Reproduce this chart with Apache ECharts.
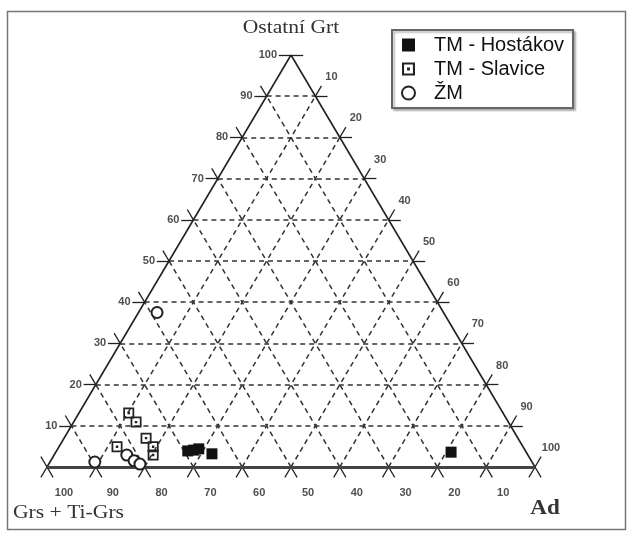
<!DOCTYPE html>
<html>
<head>
<meta charset="utf-8">
<script src="https://cdn.jsdelivr.net/npm/echarts@6/dist/echarts.min.js"></script>
<style>
  html, body { margin: 0; padding: 0; background: #fff; }
  #chart { width: 631px; height: 537px; }
</style>
</head>
<body>
<div id="chart"></div>
<script>
// Garnet compositions in percent: Ostatní Grt (top), Ad (right); Grs + Ti-Grs is the remainder.
const hostakovOstatni = [3.9, 4.1, 4.4, 3.2, 3.6];
const hostakovAd      = [26.9, 28.0, 28.9, 32.2, 81.0];

const slaviceOstatni = [13.1, 10.9, 7.0, 4.9, 2.9, 4.9];
const slaviceAd      = [10.2, 12.8, 16.8, 19.3, 20.3, 11.9];

const zmOstatni = [37.5, 1.2, 2.9, 1.5, 0.7];
const zmAd      = [3.8, 9.2, 14.9, 17.1, 18.7];

// Tick values shared by all three sides
const tickSteps    = [10, 20, 30, 40, 50, 60, 70, 80, 90, 100];
const leftLabels   = ['10', '20', '30', '40', '50', '60', '70', '80', '90', '100'];   // Ostatní Grt
const bottomLabels = ['10', '20', '30', '40', '50', '60', '70', '80', '90', '100'];   // Grs + Ti-Grs
const rightLabels  = ['10', '20', '30', '40', '50', '60', '70', '80', '90', '100'];   // Ad

const seriesNames = ['TM - Hostákov', 'TM - Slavice', 'ŽM'];

// Ternary (Ostatní, Ad) -> cartesian value pair on a 0..100 x 0..100 plane
function tern(ost, ad) { return [ad + ost / 2, ost]; }

const EXT = 2.5;          // how far the ticks run past the triangle sides
const gridSegs = [];
for (let k = 10; k <= 90; k += 10) {
  gridSegs.push({ coords: [tern(k, 0), tern(k, 100 - k)] });          // Ostatní = k
  gridSegs.push({ coords: [tern(0, k), tern(100 - k, k)] });          // Ad = k
  gridSegs.push({ coords: [tern(0, 100 - k), tern(100 - k, 0)] });    // Grs = k
}

const tickSegs = [];
for (let k = 0; k <= 100; k += 10) {
  // Ostatní = k : left and right ends (the base itself gets no horizontal overhang)
  if (k > 0) {
    tickSegs.push({ coords: [tern(k, 0), tern(k, -EXT)] });
    tickSegs.push({ coords: [tern(k, 100 - k), tern(k, 100 - k + EXT)] });
  }
  // Ad = k : bottom end, and right-side end
  tickSegs.push({ coords: [tern(0, k), tern(-EXT, k)] });
  if (k > 0) tickSegs.push({ coords: [tern(100 - k, k), tern(100 - k + EXT, k)] });
  // Grs = k : bottom end, and left-side end
  tickSegs.push({ coords: [tern(0, 100 - k), tern(-EXT, 100 - k + EXT)] });
  if (k > 0) tickSegs.push({ coords: [tern(100 - k, 0), tern(100 - k + EXT, -EXT)] });
}

const sideSegs = [
  { coords: [tern(0, 0), tern(100, 0)] },
  { coords: [tern(100, 0), tern(0, 100)] }
];
const baseSeg = [{ coords: [tern(0, 0), tern(0, 100)] }];

const leftLabelData   = tickSteps.map((k, i) => ({ value: tern(k, 0), name: leftLabels[i] }));
const bottomLabelData = tickSteps.map((k, i) => ({ value: tern(0, 100 - k), name: bottomLabels[i] }));
const rightLabelData  = tickSteps.map((k, i) => ({ value: tern(100 - k, k), name: rightLabels[i] }));

const toPoints = (ost, ad) => ost.map((o, i) => tern(o, ad[i]));

const labelFont = { color: '#222', fontSize: 11, fontWeight: 'bold', fontFamily: 'Liberation Sans, Arial, sans-serif' };

const slaviceIcon = 'path://M0,0H10V10H0Z M1.6,1.6V8.4H8.4V1.6Z M3.9,3.9H6.1V6.1H3.9Z';

const chart = echarts.init(document.getElementById('chart'), null, { renderer: 'canvas' });

chart.setOption({
  animation: false,
  backgroundColor: '#fff',
  grid: { left: 47, right: 96, top: 55, bottom: 70 },
  xAxis: { type: 'value', min: 0, max: 100, show: false },
  yAxis: { type: 'value', min: 0, max: 100, show: false },
  legend: {
    orient: 'vertical',
    left: 392,
    top: 30,
    padding: [5, 9, 5, 9],
    itemWidth: 13,
    itemHeight: 13,
    itemGap: 4,
    backgroundColor: '#fff',
    borderColor: '#666',
    borderWidth: 2,
    borderRadius: 0,
    shadowColor: 'rgba(0,0,0,0.25)',
    shadowBlur: 2,
    shadowOffsetX: 2,
    shadowOffsetY: 2,
    textStyle: {
      color: '#111',
      fontSize: 20,
      lineHeight: 20,
      fontFamily: 'Liberation Sans, Arial, sans-serif',
      padding: [0, 0, 0, 14]
    },
    data: [
      { name: seriesNames[0], icon: 'rect' },
      { name: seriesNames[1], icon: slaviceIcon },
      { name: seriesNames[2], icon: 'emptyCircle' }
    ]
  },
  graphic: [
    { type: 'rect', shape: { x: 7.5, y: 11.5, width: 618, height: 518 },
      style: { fill: 'none', stroke: '#777', lineWidth: 1.5 }, z: -10 },
    { type: 'text', x: 291, y: 28, scaleX: 1.2,
      style: { text: 'Ostatní Grt', font: '18px "Liberation Serif", serif', fill: '#333', align: 'center', verticalAlign: 'middle' } },
    { type: 'text', x: 13, y: 513, scaleX: 1.2,
      style: { text: 'Grs + Ti-Grs', font: '18px "Liberation Serif", serif', fill: '#333', align: 'left', verticalAlign: 'middle' } },
    { type: 'text', x: 545, y: 509, scaleX: 1.1,
      style: { text: 'Ad', font: 'bold 21px "Liberation Serif", serif', fill: '#333', align: 'center', verticalAlign: 'middle' } }
  ],
  series: [
    {
      type: 'lines', coordinateSystem: 'cartesian2d', silent: true, clip: false, z: 1,
      lineStyle: { color: '#333', width: 1.5, type: [5, 4], opacity: 1 },
      data: gridSegs
    },
    {
      type: 'lines', coordinateSystem: 'cartesian2d', silent: true, clip: false, z: 2,
      lineStyle: { color: '#222', width: 1.3, opacity: 1 },
      data: tickSegs
    },
    {
      type: 'lines', coordinateSystem: 'cartesian2d', silent: true, clip: false, z: 3,
      lineStyle: { color: '#222', width: 1.6, opacity: 1 },
      data: sideSegs
    },
    {
      type: 'lines', coordinateSystem: 'cartesian2d', silent: true, clip: false, z: 3,
      lineStyle: { color: '#444', width: 2.8, opacity: 1 },
      data: baseSeg
    },
    {
      type: 'scatter', silent: true, clip: false, symbolSize: 0, z: 4,
      label: { show: true, position: 'left', distance: 14, formatter: p => p.name, ...labelFont },
      data: leftLabelData
    },
    {
      type: 'scatter', silent: true, clip: false, symbolSize: 0, z: 4,
      label: { show: true, position: 'inside', offset: [17, 26], formatter: p => p.name, ...labelFont },
      data: bottomLabelData
    },
    {
      type: 'scatter', silent: true, clip: false, symbolSize: 0, z: 4,
      label: { show: true, position: 'inside', offset: [16, -19], formatter: p => p.name, ...labelFont },
      data: rightLabelData
    },
    {
      name: seriesNames[0], type: 'scatter', clip: false, z: 10,
      symbol: 'rect', symbolSize: 11,
      itemStyle: { color: '#111', opacity: 1 },
      data: toPoints(hostakovOstatni, hostakovAd)
    },
    {
      name: seriesNames[1], type: 'scatter', clip: false, z: 10,
      symbol: slaviceIcon, symbolSize: 11,
      itemStyle: { color: '#222', opacity: 1 },
      data: toPoints(slaviceOstatni, slaviceAd)
    },
    {
      name: seriesNames[2], type: 'scatter', clip: false, z: 10,
      symbol: 'emptyCircle', symbolSize: 11,
      itemStyle: { color: '#222', borderColor: '#222', borderWidth: 1.8, opacity: 1 },
      data: toPoints(zmOstatni, zmAd)
    }
  ]
});
</script>
</body>
</html>
